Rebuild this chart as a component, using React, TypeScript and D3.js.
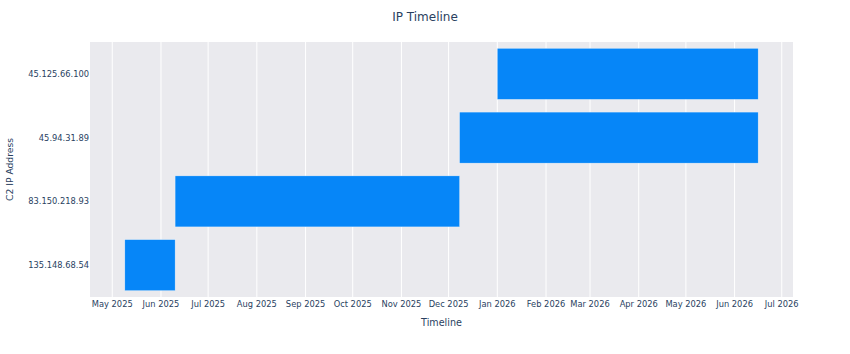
import React, { useEffect, useRef } from "react";
import * as d3 from "d3";

// data
const ips = ["135.148.68.54", "83.150.218.93", "45.94.31.89", "45.125.66.100"];
const starts = ["2025-05-09", "2025-06-10", "2025-12-08", "2026-01-01"];
const ends = ["2025-06-10", "2025-12-08", "2026-06-16", "2026-06-16"];

const App = () => {
  const svgRef = useRef<SVGSVGElement | null>(null);

  useEffect(() => {
    const svg = d3.select(svgRef.current);
    svg.selectAll("*").remove();

    const width = 850,
      height = 354;
    const left = 90,
      right = 793,
      top = 42,
      bottom = 297;
    const font = "'DejaVu Sans', Verdana, sans-serif";
    const textColor = "#2a3f5f";

    const rows = ips.map((ip, i) => ({
      ip,
      start: new Date(starts[i]),
      end: new Date(ends[i]),
    }));

    const minT = d3.min(rows, (d) => d.start.getTime())!;
    const maxT = d3.max(rows, (d) => d.end.getTime())!;
    const pad = (maxT - minT) * 0.055;

    const x = d3
      .scaleUtc()
      .domain([new Date(minT - pad), new Date(maxT + pad)])
      .range([left, right]);

    // first category at the bottom
    const y = d3
      .scaleBand()
      .domain(ips.slice().reverse())
      .range([top, bottom])
      .paddingInner(0.2)
      .paddingOuter(0.1);

    svg.attr("width", width).attr("height", height);

    svg
      .append("rect")
      .attr("x", left)
      .attr("y", top)
      .attr("width", right - left)
      .attr("height", bottom - top)
      .attr("fill", "#eaeaee");

    const ticks = x.ticks(d3.utcMonth.every(1)!);

    svg
      .append("g")
      .selectAll("line")
      .data(ticks)
      .enter()
      .append("line")
      .attr("x1", (d) => x(d))
      .attr("x2", (d) => x(d))
      .attr("y1", top)
      .attr("y2", bottom)
      .attr("stroke", "#fff")
      .attr("stroke-width", 1);

    svg
      .append("g")
      .selectAll("rect")
      .data(rows)
      .enter()
      .append("rect")
      .attr("x", (d) => x(d.start))
      .attr("width", (d) => x(d.end) - x(d.start))
      .attr("y", (d) => y(d.ip)!)
      .attr("height", y.bandwidth())
      .attr("fill", "#0686f8")
      .attr("stroke", "#fff")
      .attr("stroke-width", 0.5)
      .attr("stroke-opacity", 0.6);

    const fmt = d3.utcFormat("%b %Y");
    svg
      .append("g")
      .selectAll("text")
      .data(ticks)
      .enter()
      .append("text")
      .attr("x", (d) => x(d))
      .attr("y", bottom + 9.5)
      .attr("text-anchor", "middle")
      .attr("font-family", font)
      .attr("font-size", "8.3px")
      .attr("fill", textColor)
      .text((d) => fmt(d));

    svg
      .append("g")
      .selectAll("text")
      .data(ips)
      .enter()
      .append("text")
      .attr("x", left - 1)
      .attr("y", (d) => y(d)! + y.bandwidth() / 2 + 3)
      .attr("text-anchor", "end")
      .attr("font-family", font)
      .attr("font-size", "8.3px")
      .attr("fill", textColor)
      .text((d) => d);

    svg
      .append("text")
      .attr("x", width / 2)
      .attr("y", 21)
      .attr("text-anchor", "middle")
      .attr("font-family", font)
      .attr("font-size", "12px")
      .attr("fill", textColor)
      .text("IP Timeline");

    svg
      .append("text")
      .attr("x", (left + right) / 2)
      .attr("y", 326)
      .attr("text-anchor", "middle")
      .attr("font-family", font)
      .attr("font-size", "9.6px")
      .attr("fill", textColor)
      .text("Timeline");

    svg
      .append("text")
      .attr("transform", `translate(12.5, ${(top + bottom) / 2}) rotate(-90)`)
      .attr("text-anchor", "middle")
      .attr("font-family", font)
      .attr("font-size", "9.2px")
      .attr("fill", textColor)
      .text("C2 IP Address");
  }, []);

  return (
    <svg
      ref={svgRef}
      style={{ position: "absolute", left: 0, top: 0, background: "#fff" }}
    ></svg>
  );
};

export default App;
